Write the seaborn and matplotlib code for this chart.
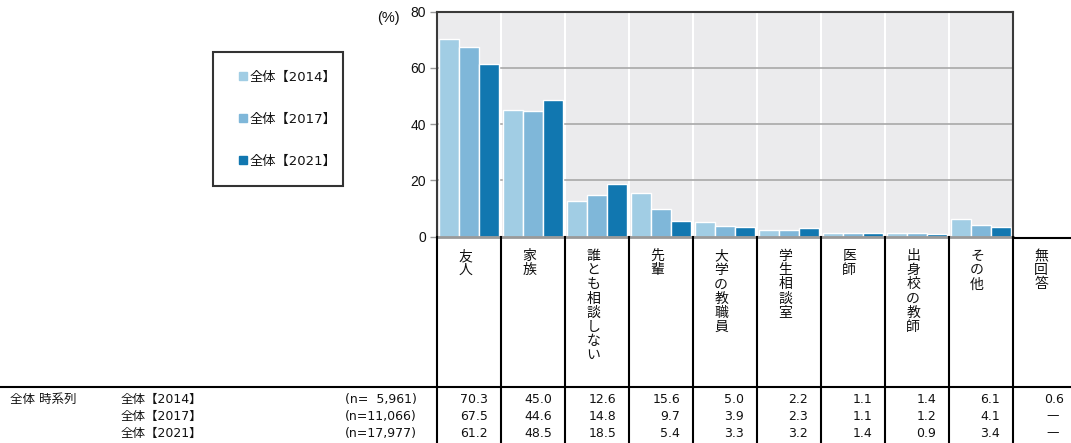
import matplotlib
matplotlib.use("Agg")
import matplotlib.pyplot as plt
import matplotlib.transforms as mtransforms
from matplotlib.lines import Line2D
from matplotlib.patches import Rectangle
import seaborn as sns
import pandas as pd

# ---- data ----
categories = ["友人", "家族", "誰とも相談しない", "先輩", "大学の教職員",
              "学生相談室", "医師", "出身校の教師", "その他", "無回答"]
charted = categories[:9]
series = ["全体【2014】", "全体【2017】", "全体【2021】"]
sample_sizes = ["(n=  5,961)", "(n=11,066)", "(n=17,977)"]
group_label = "全体 時系列"
values_2014 = [70.3, 45.0, 12.6, 15.6, 5.0, 2.2, 1.1, 1.4, 6.1, 0.6]
values_2017 = [67.5, 44.6, 14.8, 9.7, 3.9, 2.3, 1.1, 1.2, 4.1, None]
values_2021 = [61.2, 48.5, 18.5, 5.4, 3.3, 3.2, 1.4, 0.9, 3.4, None]
y_ticks = [0, 20, 40, 60, 80]

colors = ["#a1cde4", "#7fb7d9", "#1177b0"]
all_values = [values_2014, values_2017, values_2021]

plt.rcParams["font.family"] = ["DejaVu Sans", "Noto Sans CJK JP"]
TXT = "#111111"

rows = []
for name, vals in zip(series, all_values):
    for cat, v in zip(charted, vals[:9]):
        rows.append({"category": cat, "series": name, "value": v})
df = pd.DataFrame(rows)

W, H = 1071, 443
fig = plt.figure(figsize=(W / 100, H / 100), dpi=100)
ax = fig.add_axes([437 / W, 1 - 236.5 / H, 576 / W, 225 / H])

sns.barplot(data=df, x="category", y="value", hue="series", order=charted,
            hue_order=series, palette=colors, width=0.95, gap=0,
            saturation=1, edgecolor="white", linewidth=1.0, legend=False,
            ax=ax, zorder=2)

ax.set_xlim(-0.5, 8.5)
ax.set_ylim(0, 80)
ax.set_facecolor("#ebebed")
ax.set_xlabel("")
ax.set_ylabel("")

# grid: grey horizontal lines, white separators between categories
ax.set_yticks(y_ticks)
ax.yaxis.grid(True, color="#a8a8a8", lw=1.2, zorder=0)
ax.set_xticks([i + 0.5 for i in range(8)], minor=True)
ax.xaxis.grid(True, which="minor", color="white", lw=1.5, zorder=0)
ax.xaxis.grid(False, which="major")
ax.set_axisbelow(True)
ax.tick_params(axis="x", which="both", length=0, labelbottom=False)
ax.tick_params(axis="y", length=5, width=1, color="#999999", pad=3,
               labelsize=10, labelcolor=TXT)
for lab in ax.get_yticklabels():
    lab.set_family("Liberation Sans")

for side in ["left", "top", "right"]:
    ax.spines[side].set_color("#3a3a3a")
    ax.spines[side].set_linewidth(1.5)
ax.spines["bottom"].set_color("#999999")
ax.spines["bottom"].set_linewidth(2)

fig.text(388 / W, 1 - 18 / H, "(%)", ha="center", va="center", fontsize=10.5,
         family="Liberation Sans", color=TXT)

# legend inside a drawn box
handles = [Line2D([], [], marker="s", ls="", color=c, markersize=6) for c in colors]
fig.legend(handles, series, loc="center left",
           bbox_to_anchor=(228 / W, 1 - 119 / H), frameon=False,
           labelspacing=2.2, handlelength=0.5, handletextpad=0.2,
           labelcolor=TXT,
           prop={"size": 9.5, "family": ["DejaVu Sans", "Noto Sans CJK JP"]})
fig.add_artist(Rectangle((213 / W, 1 - 186 / H), 130 / W, 134 / H,
                         transform=fig.transFigure, fill=False,
                         ec="#333333", lw=1.5))

# ---- table below the bars ----
trans = mtransforms.blended_transform_factory(ax.transData, fig.transFigure)
y_axis_bottom = 1 - 237 / H
for k in range(11):
    x = k - 0.5
    fig.add_artist(Line2D([x, x], [y_axis_bottom, 0], transform=trans,
                          color="black", lw=1.5))
fig.add_artist(Line2D([8.5, 9.5], [1 - 238 / H, 1 - 238 / H], transform=trans,
                      color="black", lw=1.5))
fig.add_artist(Line2D([0, 1], [1 - 387 / H, 1 - 387 / H],
                      transform=fig.transFigure, color="black", lw=1.5))

# vertical category labels, one character per line
for i, cat in enumerate(categories):
    for j, ch in enumerate(cat):
        fig.text(i - 0.06, 1 - (256 + j * 14.2) / H, ch, transform=trans,
                 ha="center", va="center", fontsize=10,
                 family="Noto Sans CJK JP", color=TXT)

# table rows share a common baseline per row
row_base = [403, 420, 437]
fig.text(10 / W, 1 - row_base[0] / H, group_label, ha="left", va="baseline",
         fontsize=9, color=TXT)
for r in range(3):
    y = 1 - row_base[r] / H
    fig.text(121 / W, y, series[r], ha="left", va="baseline", fontsize=9,
             color=TXT)
    fig.text(417 / W, y, sample_sizes[r], ha="right", va="baseline",
             fontsize=9, color=TXT)
    for i, v in enumerate(all_values[r]):
        if v is None:
            fig.text(i + 0.125, y + 1 / H, "—", transform=trans, ha="center",
                     va="baseline", fontsize=9, color=TXT)
        else:
            fig.text(i + 0.3, y, f"{v:.1f}", transform=trans, ha="right",
                     va="baseline", fontsize=9, color=TXT)

fig.savefig("out.png", dpi=100)
